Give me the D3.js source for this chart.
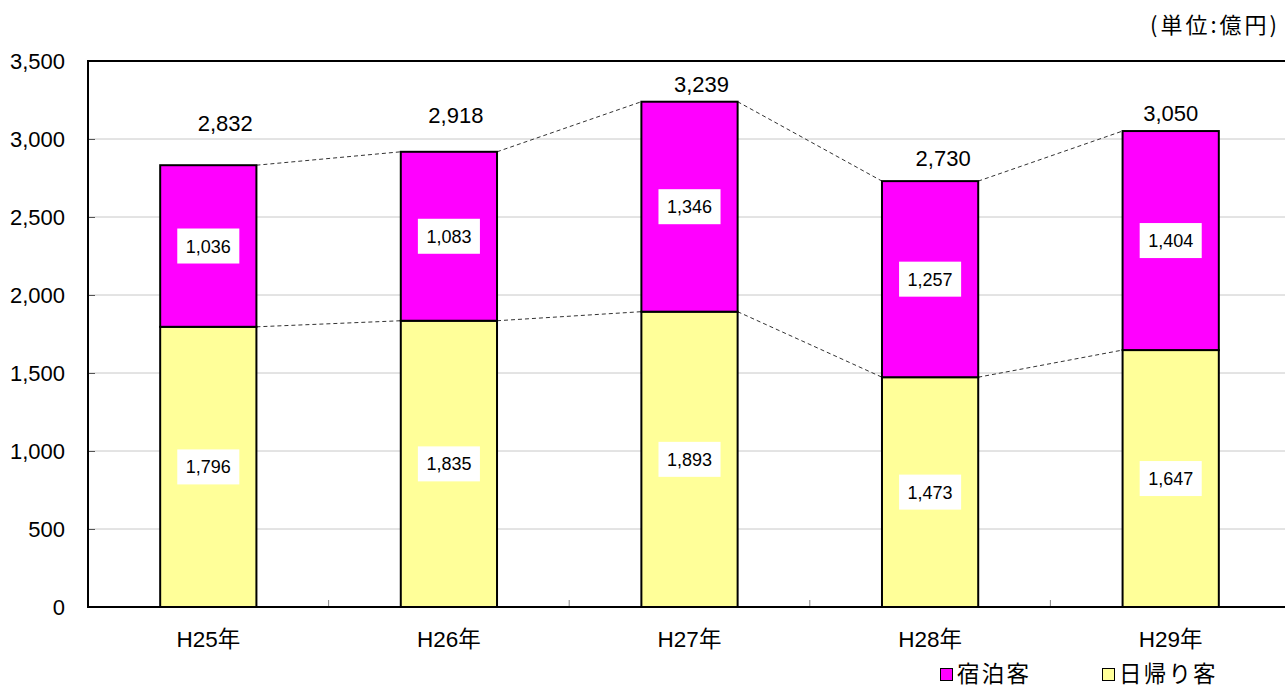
<!DOCTYPE html>
<html>
<head>
<meta charset="utf-8">
<script src="https://cdn.jsdelivr.net/npm/d3@7/dist/d3.min.js"></script>
<style>
  html, body { margin: 0; padding: 0; background: #fff; overflow: hidden; }
  svg { display: block; }
</style>
</head>
<body>
<svg id="chart" width="1285" height="688"></svg>
<script>
// ---- data ----
const categories = ["H25年", "H26年", "H27年", "H28年", "H29年"];
const dayTrip = [1796, 1835, 1893, 1473, 1647];      // 日帰り客
const overnight = [1036, 1083, 1346, 1257, 1404];    // 宿泊客
const totals = [2832, 2918, 3239, 2730, 3050];
const yTicks = [0, 500, 1000, 1500, 2000, 2500, 3000, 3500];
const seriesNames = ["宿泊客", "日帰り客"];
const unitLabel = "(単位:億円)";

(function () {
// ---- layout / style ----
const numFont = "'Liberation Sans', Arial, sans-serif";
const mixFont = "'Liberation Sans', Arial, 'Noto Sans CJK JP', sans-serif";
const cjkFont = "'Noto Sans CJK JP', sans-serif";
const colors = { day: "#FFFF99", stay: "#FF00FF" };
// label nudges for total labels (dx, dy from bar top centre)
const totalNudge = [[17, -42], [7, -37], [12, -18], [13, -23], [0, -18]];

const svg = d3.select("#chart");
const pLeft = 88, pRight = 1291, pTop = 61, pBottom = 607;

const x = d3.scaleBand().domain(categories).range([pLeft, pRight])
  .paddingInner(0.6).paddingOuter(0.3);
const y = d3.scaleLinear().domain([0, 3500]).range([pBottom, pTop]);
const bw = x.bandwidth();
const step = x.step();

// gridlines
svg.append("g").selectAll("line").data(yTicks.filter(d => d > 0 && d < 3500)).join("line")
  .attr("x1", pLeft).attr("x2", 1285)
  .attr("y1", d => y(d)).attr("y2", d => y(d))
  .attr("stroke", "#c8c8c8").attr("stroke-width", 1);

// y axis
const yAxis = svg.append("g").attr("transform", `translate(${pLeft},0)`)
  .call(d3.axisLeft(y).tickValues(yTicks).tickFormat(d3.format(","))
    .tickSizeInner(-7).tickSizeOuter(0).tickPadding(23));
yAxis.select(".domain").remove();
yAxis.selectAll(".tick line").attr("stroke", "#555").attr("stroke-width", 1);
yAxis.selectAll(".tick text").attr("font-family", numFont).attr("font-size", 22)
  .attr("fill", "#000");

// x axis labels
const xAxis = svg.append("g").attr("transform", `translate(0,${pBottom})`)
  .call(d3.axisBottom(x).tickSize(0).tickPadding(24));
xAxis.select(".domain").remove();
xAxis.selectAll(".tick text").attr("font-family", mixFont).attr("font-size", 22.5)
  .attr("fill", "#000");

// category separator ticks
svg.append("g").selectAll("line").data(d3.range(1, categories.length)).join("line")
  .attr("x1", i => x(categories[i]) - step * x.paddingInner() / 2)
  .attr("x2", i => x(categories[i]) - step * x.paddingInner() / 2)
  .attr("y1", pBottom).attr("y2", pBottom - 7)
  .attr("stroke", "#888").attr("stroke-width", 1);

// connector dashed lines
const connectors = [];
for (let i = 0; i < categories.length - 1; i++) {
  connectors.push([x(categories[i]) + bw, y(dayTrip[i]), x(categories[i + 1]), y(dayTrip[i + 1])]);
  connectors.push([x(categories[i]) + bw, y(dayTrip[i] + overnight[i]), x(categories[i + 1]), y(dayTrip[i + 1] + overnight[i + 1])]);
}
svg.append("g").selectAll("line").data(connectors).join("line")
  .attr("x1", d => d[0]).attr("y1", d => d[1]).attr("x2", d => d[2]).attr("y2", d => d[3])
  .attr("stroke", "#333").attr("stroke-width", 1).attr("stroke-dasharray", "4,3");

// bars
const stackData = categories.map((c, i) => ({ c, day: dayTrip[i], stay: overnight[i] }));
const bars = svg.append("g");
bars.selectAll("rect.day").data(stackData).join("rect").attr("class", "day")
  .attr("x", d => x(d.c)).attr("width", bw)
  .attr("y", d => y(d.day)).attr("height", d => y(0) - y(d.day))
  .attr("fill", colors.day).attr("stroke", "#000").attr("stroke-width", 2);
bars.selectAll("rect.stay").data(stackData).join("rect").attr("class", "stay")
  .attr("x", d => x(d.c)).attr("width", bw)
  .attr("y", d => y(d.day + d.stay)).attr("height", d => y(d.day) - y(d.day + d.stay))
  .attr("fill", colors.stay).attr("stroke", "#000").attr("stroke-width", 2);

// frame: left, top, bottom
svg.append("line").attr("x1", pLeft).attr("x2", pLeft).attr("y1", pTop).attr("y2", pBottom)
  .attr("stroke", "#000").attr("stroke-width", 2);
svg.append("line").attr("x1", pLeft - 1).attr("x2", 1285).attr("y1", pTop).attr("y2", pTop)
  .attr("stroke", "#000").attr("stroke-width", 2);
svg.append("line").attr("x1", pLeft - 1).attr("x2", 1285).attr("y1", pBottom).attr("y2", pBottom)
  .attr("stroke", "#000").attr("stroke-width", 2);

// segment labels in white boxes
const fmt = d3.format(",");
const segLabels = [];
stackData.forEach(d => {
  segLabels.push({ cx: x(d.c) + bw / 2, cy: y(d.day / 2), v: d.day });
  segLabels.push({ cx: x(d.c) + bw / 2, cy: y(d.day + d.stay / 2), v: d.stay });
});
const segG = svg.append("g");
segLabels.forEach(s => {
  const g = segG.append("g");
  const t = g.append("text").attr("x", s.cx).attr("y", s.cy + 6.5)
    .attr("text-anchor", "middle").attr("font-family", numFont).attr("font-size", 18)
    .attr("fill", "#000").text(fmt(s.v));
  const w = t.node().getComputedTextLength();
  g.insert("rect", "text").attr("x", s.cx - w / 2 - 8.5).attr("y", s.cy - 17.5)
    .attr("width", w + 17).attr("height", 35).attr("fill", "#fff");
});

// total labels
svg.append("g").selectAll("text").data(totals).join("text")
  .attr("x", (d, i) => x(categories[i]) + bw / 2 + totalNudge[i][0])
  .attr("y", (d, i) => y(dayTrip[i] + overnight[i]) + totalNudge[i][1] + 8)
  .attr("text-anchor", "middle").attr("font-family", numFont).attr("font-size", 22)
  .attr("fill", "#000").text(d => fmt(d));

// unit label
svg.append("text").attr("x", 1280).attr("y", 33).attr("text-anchor", "end")
  .attr("font-family", cjkFont).attr("font-size", 22).attr("letter-spacing", 3)
  .attr("fill", "#000").text(unitLabel);

// legend
const legendItems = [
  { name: seriesNames[0], color: colors.stay, x: 940 },
  { name: seriesNames[1], color: colors.day, x: 1102 }
];
const lg = svg.append("g");
legendItems.forEach(it => {
  lg.append("rect").attr("x", it.x + 0.5).attr("y", 668.5).attr("width", 12).attr("height", 12)
    .attr("fill", it.color).attr("stroke", "#000").attr("stroke-width", 1);
  lg.append("text").attr("x", it.x + 17).attr("y", 681.5).attr("font-family", cjkFont)
    .attr("font-size", 22.5).attr("letter-spacing", 2.2).attr("fill", "#000").text(it.name);
});
})();
</script>
</body>
</html>
